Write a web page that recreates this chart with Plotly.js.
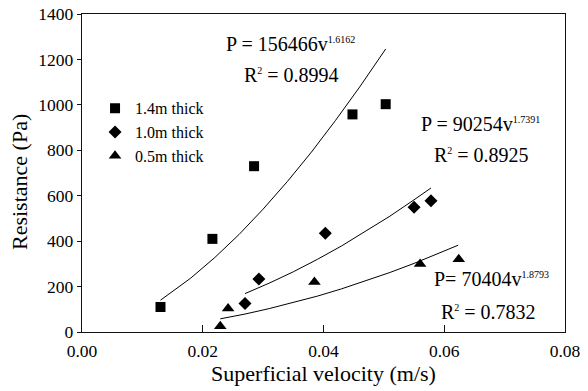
<!DOCTYPE html>
<html>
<head>
<meta charset="utf-8">
<script src="https://cdn.plot.ly/plotly-3.0.1.min.js"></script>
<style>html,body{margin:0;padding:0;background:#fff}#chart{width:588px;height:391px}</style>
</head>
<body>
<div id="chart"></div>
<script>
// Measured points
const v14 = [0.0130, 0.0216, 0.0285, 0.0448, 0.0503];
const p14 = [110, 410, 730, 958, 1003];
const v10 = [0.0270, 0.0293, 0.0403, 0.0550, 0.0578];
const p10 = [126, 233, 435, 549, 578];
const v05 = [0.0229, 0.0242, 0.0385, 0.0560, 0.0624];
const p05 = [25, 104, 220, 299, 320];

// Fitted curves
const fitV14 = [0.013, 0.018, 0.022, 0.026, 0.030, 0.034, 0.038, 0.042, 0.046, 0.0503];
const fitP14 = [140, 237, 328, 429, 541, 662, 792, 932, 1079, 1246];
const fitV10 = [0.027, 0.031, 0.035, 0.039, 0.043, 0.047, 0.051, 0.055, 0.0578];
const fitP10 = [169, 215, 265, 320, 379, 443, 510, 582, 634];
const fitV05 = [0.0229, 0.027, 0.031, 0.035, 0.039, 0.043, 0.047, 0.051, 0.055, 0.059, 0.0623];
const fitP05 = [58, 79, 103, 129, 158, 190, 225, 262, 302, 345, 382];

const seriesNames = ['1.4m thick', '1.0m thick', '0.5m thick'];
const xTitle = 'Superficial velocity (m/s)';
const yTitle = 'Resistance (Pa)';
const fitLabels = [
  ['P = 156466v', '1.6162', '0.8994'],
  ['P = 90254v', '1.7391', '0.8925'],
  ['P= 70404v', '1.8793', '0.7832']
];

const FONT = 'Liberation Serif, Times New Roman, serif';
const lineStyle = {color: '#000', width: 1};

const traces = [
  {x: fitV14, y: fitP14, mode: 'lines', line: lineStyle, showlegend: false, hoverinfo: 'skip'},
  {x: fitV10, y: fitP10, mode: 'lines', line: lineStyle, showlegend: false, hoverinfo: 'skip'},
  {x: fitV05, y: fitP05, mode: 'lines', line: lineStyle, showlegend: false, hoverinfo: 'skip'},
  {x: v14, y: p14, mode: 'markers', name: seriesNames[0],
   marker: {symbol: 'square', size: 10, color: '#000'}},
  {x: v10, y: p10, mode: 'markers', name: seriesNames[1],
   marker: {symbol: 'diamond', size: 10, color: '#000'}},
  {x: v05, y: p05, mode: 'markers', name: seriesNames[2],
   marker: {symbol: 'triangle-up', size: 11, color: '#000'}}
];

const annFont = {family: FONT, size: 20, color: '#000'};
const supTxt = s => '<sup><span style="font-size:10px">' + s + '</span></sup>';
const annPos = [
  [290, 44, 291, 75],
  [480, 124, 481, 155],
  [491, 279, 488, 312]
];
const annotations = [];
fitLabels.forEach((f, i) => {
  const p = annPos[i];
  annotations.push({x: p[0], y: p[1], text: f[0] + supTxt(f[1])});
  annotations.push({x: p[2], y: p[3], text: 'R' + supTxt('2') + ' = ' + f[2]});
});
annotations.forEach(a => {
  a.xref = 'paper'; a.yref = 'paper';
  a.x = (a.x - 82) / 483; a.y = 1 - (a.y - 14) / 318;
  a.xanchor = 'center'; a.yanchor = 'middle';
  a.showarrow = false; a.font = annFont;
});
// y-axis title (placed slightly below the axis centre, as in the original)
annotations.push({
  xref: 'paper', yref: 'paper', x: (19 - 82) / 483, y: 1 - (182 - 14) / 318,
  xanchor: 'center', yanchor: 'middle', textangle: -90, showarrow: false,
  text: yTitle, font: {family: FONT, size: 22, color: '#000'}
});

const layout = {
  width: 588, height: 391,
  margin: {l: 82, r: 23, t: 14, b: 59},
  paper_bgcolor: '#fff', plot_bgcolor: '#fff',
  font: {family: FONT, size: 17, color: '#000'},
  showlegend: true,
  legend: {
    x: 0.027, y: 0.757, xanchor: 'left', yanchor: 'top',
    bgcolor: 'rgba(0,0,0,0)', font: {family: FONT, size: 16, color: '#000'},
    traceorder: 'normal'
  },
  xaxis: {
    range: [0, 0.08], dtick: 0.02, tick0: 0, tickformat: '.2f',
    showgrid: false, zeroline: false,
    showline: true, linecolor: '#111', linewidth: 1.2, mirror: true,
    ticks: 'inside', ticklen: 7, tickcolor: '#111', tickwidth: 1,
    ticklabelstandoff: 3,
    tickfont: {family: FONT, size: 17.5, color: '#000'},
    title: {text: xTitle, font: {family: FONT, size: 22, color: '#000'}, standoff: 2}
  },
  yaxis: {
    range: [0, 1400], dtick: 200, tick0: 0,
    showgrid: false, zeroline: false,
    showline: true, linecolor: '#111', linewidth: 1.2, mirror: true,
    ticks: 'outside', ticklen: 4, tickcolor: '#111', tickwidth: 1,
    tickfont: {family: FONT, size: 17.5, color: '#000'}
  },
  annotations: annotations
};

Plotly.newPlot('chart', traces, layout, {staticPlot: true, displayModeBar: false});
</script>
</body>
</html>
